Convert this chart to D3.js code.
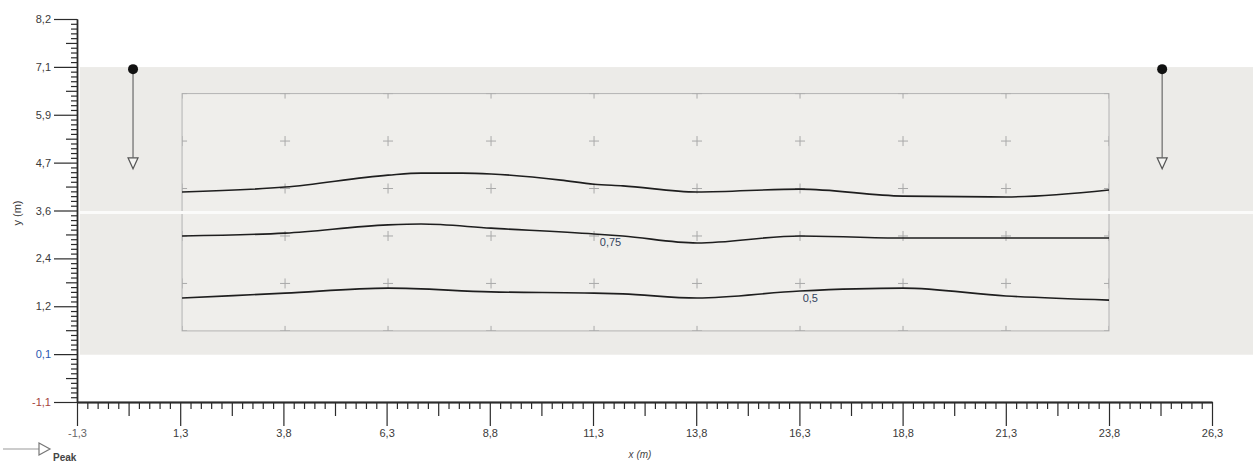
<!DOCTYPE html>
<html>
<head>
<meta charset="utf-8">
<script src="https://cdn.jsdelivr.net/npm/d3@7"></script>
<style>
  html, body { margin: 0; padding: 0; background: #fff; }
  svg { display: block; font-family: "Liberation Sans", Arial, sans-serif; }
</style>
</head>
<body>
<svg id="chart" width="1253" height="465"></svg>
<script>
// axis ticks (evenly spaced) and their printed labels
const xTicks = [-1.25, 1.255, 3.76, 6.265, 8.77, 11.275, 13.78, 16.285, 18.79, 21.295, 23.8, 26.3];
const xTickLabels = ["-1,3", "1,3", "3,8", "6,3", "8,8", "11,3", "13,8", "16,3", "18,8", "21,3", "23,8", "26,3"];
const yTicks = [-1.09, 0.075, 1.24, 2.405, 3.57, 4.735, 5.9, 7.065, 8.23];
const yTickLabels = ["-1,1", "0,1", "1,2", "2,4", "3,6", "4,7", "5,9", "7,1", "8,2"];

// shaded domain and inner mesh rectangle
const band = { x0: -1.25, x1: 27.4, y0: 0.06, y1: 7.06 };
const meshCols = [1.3, 3.8, 6.3, 8.8, 11.3, 13.8, 16.3, 18.8, 21.3, 23.8];
const meshRows = [0.64, 1.795, 2.95, 4.105, 5.26, 6.415];

// contour lines
const contourX = [1.3, 3.8, 6.3, 7.1, 8.1, 8.8, 10.5, 11.3, 12.0, 13.8, 16.3, 18.8, 21.3, 23.8];
const contourTop = [4.02, 4.14, 4.43, 4.48, 4.48, 4.46, 4.31, 4.21, 4.17, 4.02, 4.09, 3.92, 3.90, 4.07];
const contourMidX = [1.3, 3.8, 6.3, 7.1, 8.8, 11.3, 12.0, 13.8, 16.3, 18.8, 21.3, 23.8];
const contourMid = [2.95, 3.02, 3.22, 3.24, 3.14, 3.00, 2.95, 2.78, 2.95, 2.90, 2.90, 2.90];
const contourLowX = [1.3, 3.8, 6.3, 8.8, 11.3, 12.0, 13.8, 16.3, 18.8, 21.3, 23.8];
const contourLow = [1.44, 1.56, 1.68, 1.59, 1.56, 1.54, 1.44, 1.61, 1.68, 1.49, 1.39];
const contourLabels = ["0,75", "0,5"];
const contourLabelX = [11.7, 16.55];
const contourLabelY = [2.80, 1.44];

// load arrows
const loadX = [0.11, 25.09];
const loadTop = 7.01;
const loadBottom = 4.73;

const svg = d3.select("#chart");

const x = d3.scaleLinear().domain([-1.25, 26.3]).range([77, 1212]);
const y = d3.scaleLinear().domain([-1.09, 8.23]).range([402, 19]);

// shaded band
svg.append("rect")
  .attr("x", x(band.x0) + 3)
  .attr("y", y(band.y1))
  .attr("width", x(band.x1) - x(band.x0))
  .attr("height", y(band.y0) - y(band.y1))
  .attr("fill", "#ecebe8");

// mesh rectangle
const rx0 = x(meshCols[0]), rx1 = x(meshCols[meshCols.length - 1]);
const ry0 = y(meshRows[meshRows.length - 1]), ry1 = y(meshRows[0]);

svg.append("clipPath").attr("id", "meshClip")
  .append("rect").attr("x", rx0).attr("y", ry0).attr("width", rx1 - rx0).attr("height", ry1 - ry0);

svg.append("rect")
  .attr("x", rx0).attr("y", ry0)
  .attr("width", rx1 - rx0).attr("height", ry1 - ry0)
  .attr("fill", "#efeeeb")
  .attr("stroke", "#b3b3b3")
  .attr("stroke-width", 1);

// scanner streak across the band
svg.append("rect")
  .attr("x", x(band.x0) + 3).attr("y", 211).attr("width", 1253).attr("height", 3)
  .attr("fill", "#fbfbfa");

// mesh node crosses
const nodes = [];
meshRows.forEach(r => meshCols.forEach(c => nodes.push([c, r])));
svg.append("g").attr("clip-path", "url(#meshClip)")
  .selectAll("path")
  .data(nodes)
  .enter()
  .append("path")
  .attr("d", d => {
    const px = x(d[0]), py = y(d[1]);
    return `M${px - 5},${py}H${px + 5}M${px},${py - 5}V${py + 5}`;
  })
  .attr("stroke", "#a9a9a9")
  .attr("stroke-width", 1)
  .attr("fill", "none");

// contour lines
const line = d3.line()
  .x(d => x(d[0]))
  .y(d => y(d[1]))
  .curve(d3.curveMonotoneX);

const contours = [
  d3.zip(contourX, contourTop),
  d3.zip(contourMidX, contourMid),
  d3.zip(contourLowX, contourLow)
];
svg.append("g")
  .selectAll("path")
  .data(contours)
  .enter()
  .append("path")
  .attr("d", line)
  .attr("fill", "none")
  .attr("stroke", "#1e1e1e")
  .attr("stroke-width", 1.6);

svg.append("g")
  .selectAll("text")
  .data(contourLabels)
  .enter()
  .append("text")
  .attr("x", (d, i) => x(contourLabelX[i]))
  .attr("y", (d, i) => y(contourLabelY[i]) + 4)
  .attr("text-anchor", "middle")
  .attr("font-size", 11)
  .attr("fill", "#34445e")
  .text(d => d);

// load arrows
const loads = svg.append("g");
loadX.forEach(lx => {
  const px = x(lx), pt = y(loadTop), pb = y(loadBottom);
  loads.append("line")
    .attr("x1", px).attr("x2", px)
    .attr("y1", pt).attr("y2", pb - 5)
    .attr("stroke", "#6a6a6a").attr("stroke-width", 1.2);
  loads.append("path")
    .attr("d", `M${px - 5},${pb - 5}L${px + 5},${pb - 5}L${px},${pb + 6}Z`)
    .attr("fill", "#f4f4f2").attr("stroke", "#555").attr("stroke-width", 1.2);
  loads.append("circle")
    .attr("cx", px).attr("cy", pt).attr("r", 5)
    .attr("fill", "#111");
});

// x axis: minor, medium and major ticks
const xMinor = [], xMid = [];
for (let i = 0; i < xTicks.length - 1; i++) {
  const step = (xTicks[i + 1] - xTicks[i]) / 10;
  for (let k = 1; k < 10; k++) (k === 5 ? xMid : xMinor).push(xTicks[i] + k * step);
}
const yMinor = [], yMid = [];
for (let i = 0; i < yTicks.length - 1; i++) {
  const step = (yTicks[i + 1] - yTicks[i]) / 10;
  for (let k = 1; k < 10; k++) (k === 5 ? yMid : yMinor).push(yTicks[i] + k * step);
}

const axisColor = "#2b2b2b";
const labelColor = (lbl) => lbl === "0,1" ? "#2a57b0" : (lbl === "-1,1" ? "#a4443c" : "#3a3a3a");

function styleAxis(g) {
  g.select(".domain").attr("stroke", axisColor).attr("stroke-width", 1.3);
  g.selectAll(".tick line").attr("stroke", axisColor).attr("stroke-width", 1.2);
}

const gx = svg.append("g").attr("transform", `translate(0,${y(-1.09)})`);
gx.append("g").call(d3.axisBottom(x).tickValues(xMinor).tickSize(7).tickFormat("").tickSizeOuter(0)).call(styleAxis);
gx.append("g").call(d3.axisBottom(x).tickValues(xMid).tickSize(14).tickFormat("").tickSizeOuter(0)).call(styleAxis);
gx.append("g")
  .call(d3.axisBottom(x).tickValues(xTicks).tickSize(24).tickPadding(3)
    .tickFormat((d, i) => xTickLabels[i]).tickSizeOuter(0))
  .call(styleAxis)
  .call(g => g.selectAll(".tick text")
    .attr("font-size", 11)
    .attr("font-family", "Liberation Sans, Arial, sans-serif")
    .attr("fill", (d, i) => i === 0 ? "#666" : "#3a3a3a"));

const gy = svg.append("g").attr("transform", `translate(${x(-1.25)},0)`);
gy.append("g").call(d3.axisLeft(y).tickValues(yMinor).tickSize(6).tickFormat("").tickSizeOuter(0)).call(styleAxis);
gy.append("g").call(d3.axisLeft(y).tickValues(yMid).tickSize(11).tickFormat("").tickSizeOuter(0)).call(styleAxis);
gy.append("g")
  .call(d3.axisLeft(y).tickValues(yTicks).tickSize(23).tickPadding(3)
    .tickFormat((d, i) => yTickLabels[i]).tickSizeOuter(0))
  .call(styleAxis)
  .call(g => g.selectAll(".tick text")
    .attr("font-size", 11)
    .attr("font-family", "Liberation Sans, Arial, sans-serif")
    .attr("fill", (d, i) => labelColor(yTickLabels[i])));

// axis titles
svg.append("text")
  .attr("x", 640).attr("y", 458)
  .attr("text-anchor", "middle")
  .attr("font-size", 10)
  .attr("font-style", "italic")
  .attr("fill", "#444")
  .text("x (m)");

svg.append("text")
  .attr("transform", "translate(21,213) rotate(-90)")
  .attr("text-anchor", "middle")
  .attr("font-size", 11)
  .attr("fill", "#333")
  .text("y (m)");

// legend
const leg = svg.append("g");
leg.append("line").attr("x1", 3).attr("x2", 39).attr("y1", 449).attr("y2", 449)
  .attr("stroke", "#9a9a9a").attr("stroke-width", 1.2);
leg.append("path").attr("d", "M39,443L50,449L39,455Z")
  .attr("fill", "#fff").attr("stroke", "#777").attr("stroke-width", 1.2);
leg.append("text").attr("x", 53).attr("y", 461)
  .attr("font-size", 10).attr("font-weight", "bold").attr("fill", "#444")
  .text("Peak");
</script>
</body>
</html>
